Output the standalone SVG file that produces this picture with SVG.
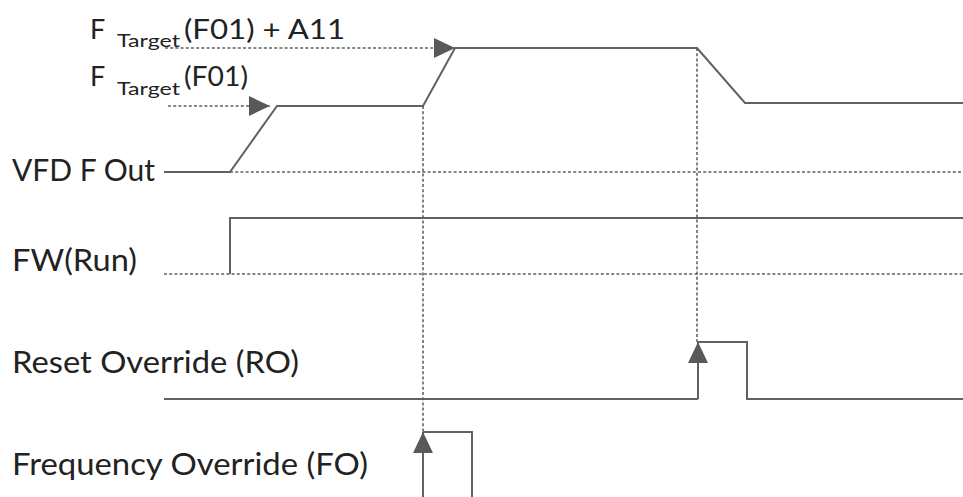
<svg xmlns="http://www.w3.org/2000/svg" width="963" height="497" viewBox="0 0 963 497">
  <style>
    .lbl { font-family: Lato, "Open Sans", "Liberation Sans", sans-serif; fill: #222222; }
    .main { font-size: 31px; }
    .top { font-size: 27px; }
    .sub { font-size: 17px; }
    .sig { fill: none; stroke: #616161; stroke-width: 2; stroke-linejoin: miter; }
    .dot { fill: none; stroke: #616161; stroke-width: 1.6; stroke-dasharray: 3 2.2; }
  </style>
  <defs>
    <marker id="arrow" markerUnits="userSpaceOnUse" markerWidth="21" markerHeight="20" refX="21" refY="10" orient="auto" viewBox="0 0 21 20">
      <path d="M0,0 L21,10 L0,20 Z" fill="#595959"/>
    </marker>
  </defs>
  <rect width="963" height="497" fill="#ffffff"/>

  <g id="guides">
    <path class="dot" d="M230,172 H963"/>
    <path class="dot" d="M164,274 H963"/>
    <path class="dot" d="M423,106 V432"/>
    <path class="dot" d="M697,48 V342"/>
  </g>

  <g id="target-f01-a11">
    <text class="lbl top" x="90" y="39">F</text>
    <text class="lbl sub" x="117" y="47" textLength="63" lengthAdjust="spacingAndGlyphs">Target</text>
    <text class="lbl top" x="184" y="39" textLength="161" lengthAdjust="spacingAndGlyphs">(F01) + A11</text>
  </g>

  <g id="target-f01">
    <text class="lbl top" x="90" y="86">F</text>
    <text class="lbl sub" x="117" y="95" textLength="63" lengthAdjust="spacingAndGlyphs">Target</text>
    <text class="lbl top" x="184" y="86" textLength="64" lengthAdjust="spacingAndGlyphs">(F01)</text>
  </g>

  <g id="vfd-f-out">
    <text class="lbl main" x="12" y="181" textLength="143" lengthAdjust="spacingAndGlyphs">VFD F Out</text>
    <path class="sig" d="M164,172 H230 L277,106 H423 L455,48 H697 L745,103 H963"/>
  </g>

  <g id="fw-run">
    <text class="lbl main" x="12" y="271" textLength="125" lengthAdjust="spacingAndGlyphs">FW(Run)</text>
    <path class="sig" d="M230,274 V218 H963"/>
  </g>

  <g id="reset-override">
    <text class="lbl main" x="12" y="373" textLength="287" lengthAdjust="spacingAndGlyphs">Reset Override (RO)</text>
    <path class="sig" d="M164,399 H698 M698,342 H747 V399 H963"/>
  </g>

  <g id="frequency-override">
    <text class="lbl main" x="12" y="475" textLength="356" lengthAdjust="spacingAndGlyphs">Frequency Override (FO)</text>
    <path class="sig" d="M423,432 H472 V497"/>
  </g>

  <g id="connectors">
    <path class="dot" d="M165,48 H455" marker-end="url(#arrow)"/>
    <path class="dot" d="M168,106 H270" marker-end="url(#arrow)"/>
    <path class="sig" d="M698,399 V342" marker-end="url(#arrow)"/>
    <path class="sig" d="M423,497 V432" marker-end="url(#arrow)"/>
  </g>
</svg>
